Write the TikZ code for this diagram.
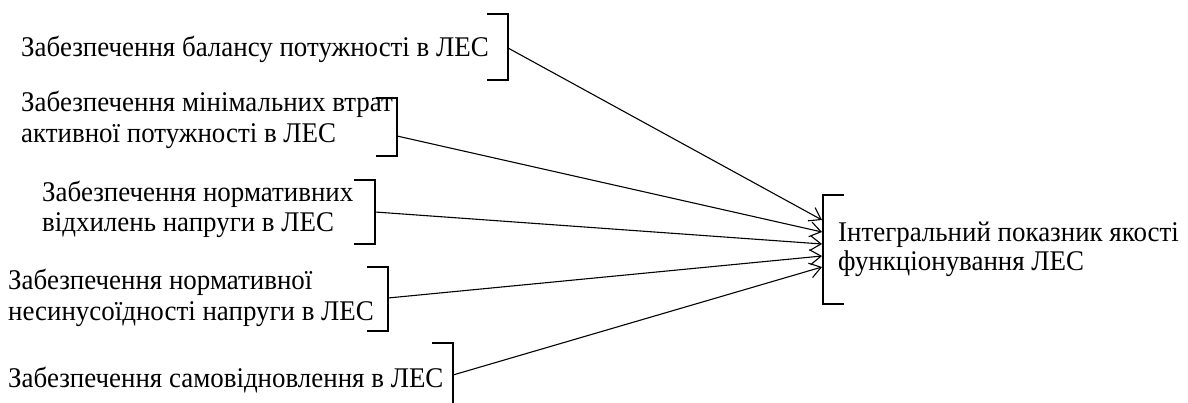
\documentclass[tikz,border=0pt]{standalone}
\usepackage{fontspec}
\setmainfont[FakeStretch=0.945]{Liberation Serif}
\usetikzlibrary{arrows.meta}
\begin{document}
\begin{tikzpicture}[x=1pt,y=-1pt,
  lbl/.style={anchor=base west, inner sep=0pt, font=\fontsize{28.5}{31}\selectfont},
  brk/.style={line width=1.3pt},
  conn/.style={line width=1.1pt, -{Straight Barb[length=11pt,width=15pt,line width=1.1pt]}}]
\useasboundingbox (0,0) rectangle (1188,403);
% texts
\node[lbl] (t1) at (21,57) {Забезпечення балансу потужності в ЛЕС};
\node[lbl] (t2a) at (21,112) {Забезпечення мінімальних втрат};
\node[lbl] (t2b) at (21,143) {активної потужності в ЛЕС};
\node[lbl] (t3a) at (42,202) {Забезпечення нормативних};
\node[lbl] (t3b) at (42,232) {відхилень напруги в ЛЕС};
\node[lbl] (t4a) at (8,289) {Забезпечення нормативної};
\node[lbl] (t4b) at (8,320) {несинусоїдності напруги в ЛЕС};
\node[lbl] (t5) at (8,387) {Забезпечення самовідновлення в ЛЕС};
\node[lbl] (ra) at (838,242) {Інтегральний показник якості};
\node[lbl] (rb) at (838,271) {функціонування ЛЕС};
% brackets
\draw[brk] (487,14) -- (508,14) -- (508,80) -- (487,80);
\draw[brk] (376,98) -- (397,98) -- (397,156) -- (376,156);
\draw[brk] (354,180) -- (375,180) -- (375,244) -- (354,244);
\draw[brk] (367,267) -- (388,267) -- (388,331) -- (367,331);
\draw[brk] (432,343) -- (453,343) -- (453,405);
\draw[brk] (844,195) -- (823,195) -- (823,304) -- (844,304);
% connector ends
\coordinate (s1) at (508,48);
\coordinate (s2) at (397,136);
\coordinate (s3) at (375,212);
\coordinate (s4) at (388,298);
\coordinate (s5) at (453,375);
\coordinate (e1) at (822,220);
\coordinate (e2) at (822,232);
\coordinate (e3) at (822,244);
\coordinate (e4) at (822,256);
\coordinate (e5) at (822,267);
\draw[conn] (s1) -- (e1);
\draw[conn] (s2) -- (e2);
\draw[conn] (s3) -- (e3);
\draw[conn] (s4) -- (e4);
\draw[conn] (s5) -- (e5);
\end{tikzpicture}
\end{document}
